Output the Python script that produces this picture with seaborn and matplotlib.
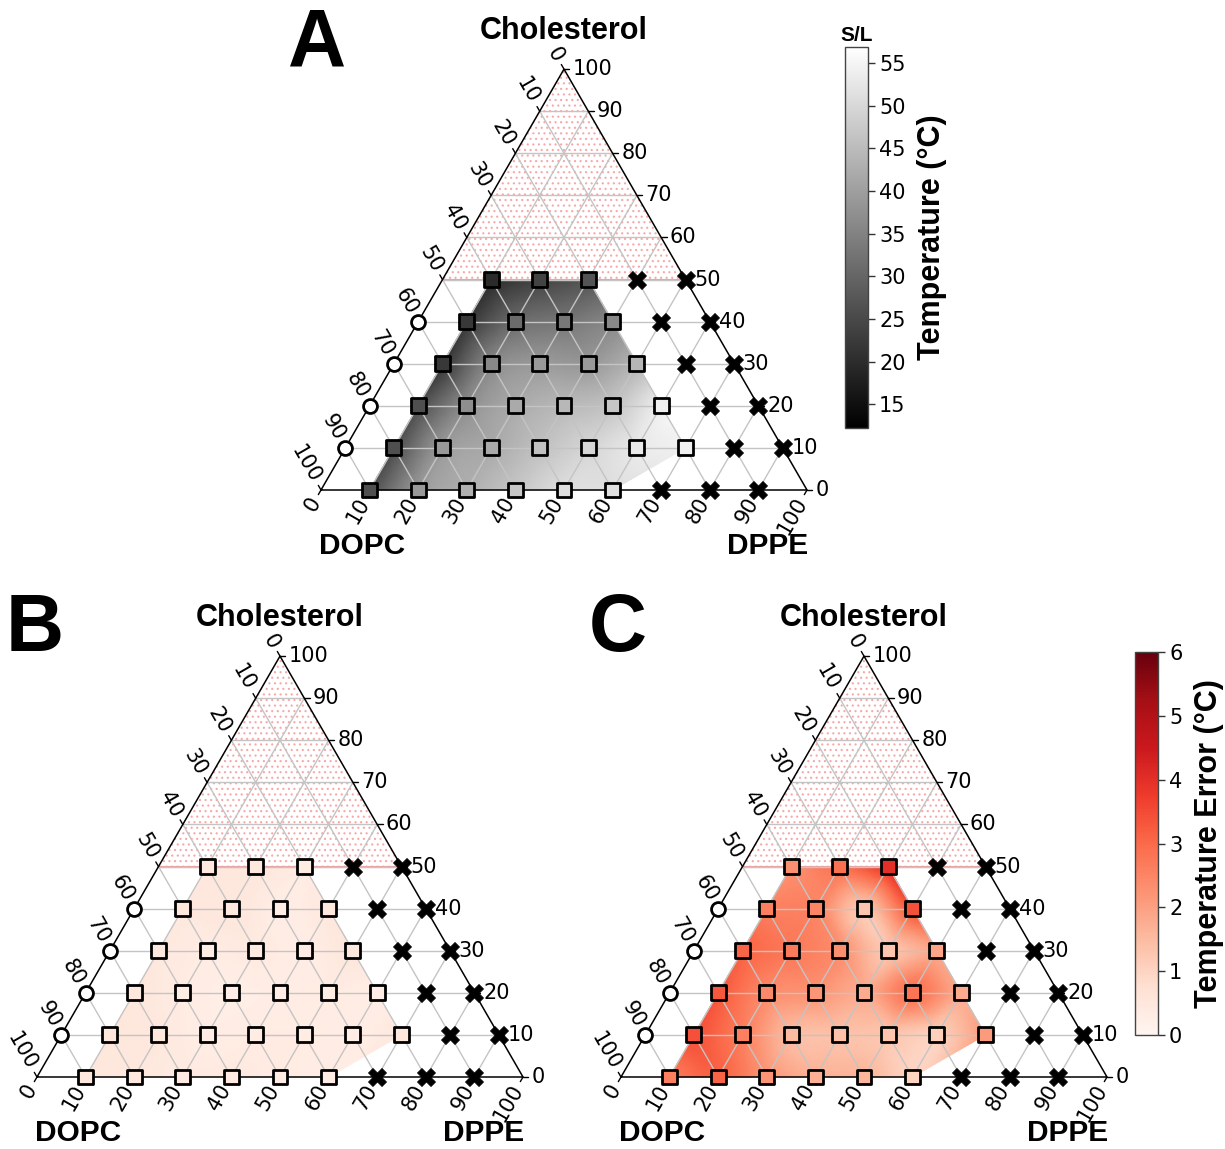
import numpy as np
import matplotlib
matplotlib.use("Agg")
import matplotlib.pyplot as plt
import matplotlib.tri as mtri
from matplotlib.colors import Normalize
from matplotlib.patches import Polygon
import seaborn as sns

sns.set_theme(style="white")
plt.rcParams["font.family"] = ["DejaVu Sans"]
plt.rcParams["text.color"] = "black"
plt.rcParams["hatch.linewidth"] = 0.8

W, H = 1225, 1149
S = 4.86          # pixels per composition percent
R3 = np.sqrt(3) / 2
BOLD = ["Liberation Sans", "DejaVu Sans"]

# Sample compositions (DPPE %, Cholesterol %); DOPC makes up the rest
sq_dppe = [10, 20, 30, 40, 50, 60,
           10, 20, 30, 40, 50, 60, 70,
           10, 20, 30, 40, 50, 60,
           10, 20, 30, 40, 50,
           10, 20, 30, 40,
           10, 20, 30]
sq_chol = [0, 0, 0, 0, 0, 0,
           10, 10, 10, 10, 10, 10, 10,
           20, 20, 20, 20, 20, 20,
           30, 30, 30, 30, 30,
           40, 40, 40, 40,
           50, 50, 50]
circ_dppe = [0, 0, 0, 0]
circ_chol = [10, 20, 30, 40]
cross_dppe = [70, 80, 90, 80, 90, 70, 80, 60, 70, 50, 60, 40, 50]
cross_chol = [0, 0, 0, 10, 10, 20, 20, 30, 30, 40, 40, 50, 50]

# Solid/liquid transition temperature (°C)
temp = [26.0, 39.0, 43.0, 47.0, 51.0, 51.5,
        26.0, 39.0, 42.0, 46.0, 49.6, 52.9, 54.3,
        26.0, 37.0, 42.0, 44.5, 46.7, 54.0,
        22.0, 36.0, 39.0, 39.0, 44.0,
        22.0, 31.0, 33.0, 36.0,
        19.8, 24.0, 27.0]
# Temperature error (°C), two estimates
err_b = [0.50, 0.45, 0.40, 0.40, 0.35, 0.30,
         0.55, 0.45, 0.30, 0.35, 0.35, 0.30, 0.45,
         0.50, 0.35, 0.25, 0.30, 0.35, 0.30,
         0.45, 0.35, 0.40, 0.30, 0.50,
         0.45, 0.50, 0.30, 0.45,
         0.45, 0.50, 0.35]
err_c = [2.6, 3.1, 2.2, 1.7, 1.6, 1.0,
         3.4, 2.6, 1.5, 1.4, 1.3, 1.1, 2.1,
         3.3, 2.4, 2.2, 1.8, 2.8, 1.8,
         3.1, 2.7, 2.3, 1.3, 1.9,
         2.6, 2.5, 1.3, 3.4,
         2.3, 2.9, 4.0]

ticks = list(range(0, 101, 10))
temp_norm = Normalize(12.2, 56.9)
err_norm = Normalize(0, 6)


def cart(d, c):
    d = np.asarray(d, float)
    c = np.asarray(c, float)
    return d + c / 2, c * R3


fig = plt.figure(figsize=(W / 100, H / 100), dpi=100)


def panel(box, x0, y0, values, cmap, norm, letter, letter_xy):
    l, t, r, b = box
    ax = fig.add_axes([l / W, 1 - b / H, (r - l) / W, (b - t) / H])
    ax.set_xlim((l - x0) / S, (r - x0) / S)
    ax.set_ylim((y0 - b) / S, (y0 - t) / S)
    ax.set_axis_off()

    # interpolated field over the measured region
    x, y = cart(sq_dppe, sq_chol)
    z = np.asarray(values, float)
    tri = mtri.Triangulation(x, y)
    interp = mtri.CubicTriInterpolator(tri, z, kind="geom")
    tri_f, z_f = mtri.UniformTriRefiner(tri).refine_field(z, interp, subdiv=4)
    ax.tripcolor(tri_f, z_f, shading="gouraud", cmap=cmap, norm=norm, zorder=1)

    # cholesterol-rich region
    ax.add_patch(Polygon([cart(0, 50), cart(50, 50), cart(0, 100)],
                         closed=True, facecolor="none", edgecolor="#f7a8a8",
                         hatch="...", lw=0, zorder=2))
    hx, hy = cart([0, 50], [50, 50])
    ax.plot(hx, hy, color="#f2a0a0", lw=1.5, zorder=2.5)

    # grid
    for v in range(10, 100, 10):
        for (d1, c1), (d2, c2) in [((0, v), (100 - v, v)),
                                   ((v, 0), (v, 100 - v)),
                                   ((100 - v, 0), (0, 100 - v))]:
            gx, gy = cart([d1, d2], [c1, c2])
            ax.plot(gx, gy, color="#c4c4c4", lw=1.0, zorder=3)

    # triangle frame
    fx, fy = cart([0, 100, 0, 0], [0, 0, 100, 0])
    ax.plot(fx, fy, color="black", lw=1.1, zorder=4)

    # ticks and tick labels
    tl, pad = 1.1, 1.0
    for v in ticks:
        # cholesterol (right edge)
        px, py = cart(100 - v, v)
        ax.plot([px, px + tl], [py, py], color="black", lw=1.0, zorder=4)
        ax.text(px + tl + 0.7, py, str(v), ha="left", va="center", fontsize=15)
        # DOPC (left edge)
        px, py = cart(0, 100 - v)
        dx, dy = -0.5, R3
        ax.plot([px, px + tl * dx], [py, py + tl * dy], color="black", lw=1.0, zorder=4)
        ax.text(px + (tl + pad) * dx, py + (tl + pad) * dy, str(v), ha="right",
                va="center", rotation=-60, rotation_mode="anchor", fontsize=15)
        # DPPE (bottom edge)
        px, py = cart(v, 0)
        dx, dy = -0.5, -R3
        ax.plot([px, px + tl * dx], [py, py + tl * dy], color="black", lw=1.0, zorder=4)
        ax.text(px + (tl + pad) * dx, py + (tl + pad) * dy, str(v), ha="right",
                va="center", rotation=60, rotation_mode="anchor", fontsize=15)

    # markers
    cx, cy = cart(circ_dppe, circ_chol)
    sns.scatterplot(x=cx, y=cy, marker="o", s=100, color="white", edgecolor="black",
                    linewidth=2, ax=ax, zorder=6, legend=False)
    xx, xy = cart(cross_dppe, cross_chol)
    sns.scatterplot(x=xx, y=xy, marker="X", s=170, color="black", edgecolor="black",
                    linewidth=0.5, ax=ax, zorder=6, legend=False)
    sns.scatterplot(x=x, y=y, hue=z, palette=cmap, hue_norm=norm, marker="s", s=115,
                    edgecolor="black", linewidth=2, ax=ax, zorder=7, legend=False)

    # vertex names
    ax.text(50, 100 * R3 + 38 / S, "Cholesterol", ha="center", va="center",
            fontsize=22, fontweight="bold", family=BOLD)
    ax.text(41 / S, -56 / S, "DOPC", ha="center", va="center",
            fontsize=21.5, fontweight="bold", family=BOLD)
    ax.text(447 / S, -56 / S, "DPPE", ha="center", va="center",
            fontsize=21.5, fontweight="bold", family=BOLD)

    fig.text(letter_xy[0] / W, 1 - letter_xy[1] / H, letter, ha="center", va="center",
             fontsize=58, fontweight="bold", family=BOLD)
    return ax


gray = plt.get_cmap("gray")
reds = plt.get_cmap("Reds")

panel((240, 0, 840, 580), 321, 490, temp, gray, temp_norm, "A", (317, 45))
panel((0, 585, 575, 1149), 37, 1077, err_b, reds, err_norm, "B", (35, 630))
panel((585, 585, 1125, 1149), 621, 1077, err_c, reds, err_norm, "C", (618, 630))


def colorbar(box, cmap, norm, tick_vals, label, title=None):
    l, t, r, b = box
    cax = fig.add_axes([l / W, 1 - b / H, (r - l) / W, (b - t) / H])
    sm = plt.cm.ScalarMappable(norm=norm, cmap=cmap)
    cb = fig.colorbar(sm, cax=cax, ticks=tick_vals)
    cb.ax.tick_params(right=True, labelsize=15, length=5, width=1, color="#333333",
                      labelcolor="black", pad=3)
    cb.outline.set_linewidth(1.0)
    cb.outline.set_edgecolor("#444444")
    cb.set_label(label, fontsize=22, fontweight="bold", family=BOLD, labelpad=8,
                 color="black")
    if title:
        cax.set_title(title, fontsize=15, fontweight="bold", family=BOLD, pad=4)
    return cb


colorbar((845, 47, 868, 428), gray, temp_norm, list(range(15, 56, 5)),
         "Temperature (°C)", "S/L")
colorbar((1135, 652, 1158, 1035), reds, err_norm, list(range(0, 7)),
         "Temperature Error (°C)")

fig.savefig("out.png", dpi=100)
